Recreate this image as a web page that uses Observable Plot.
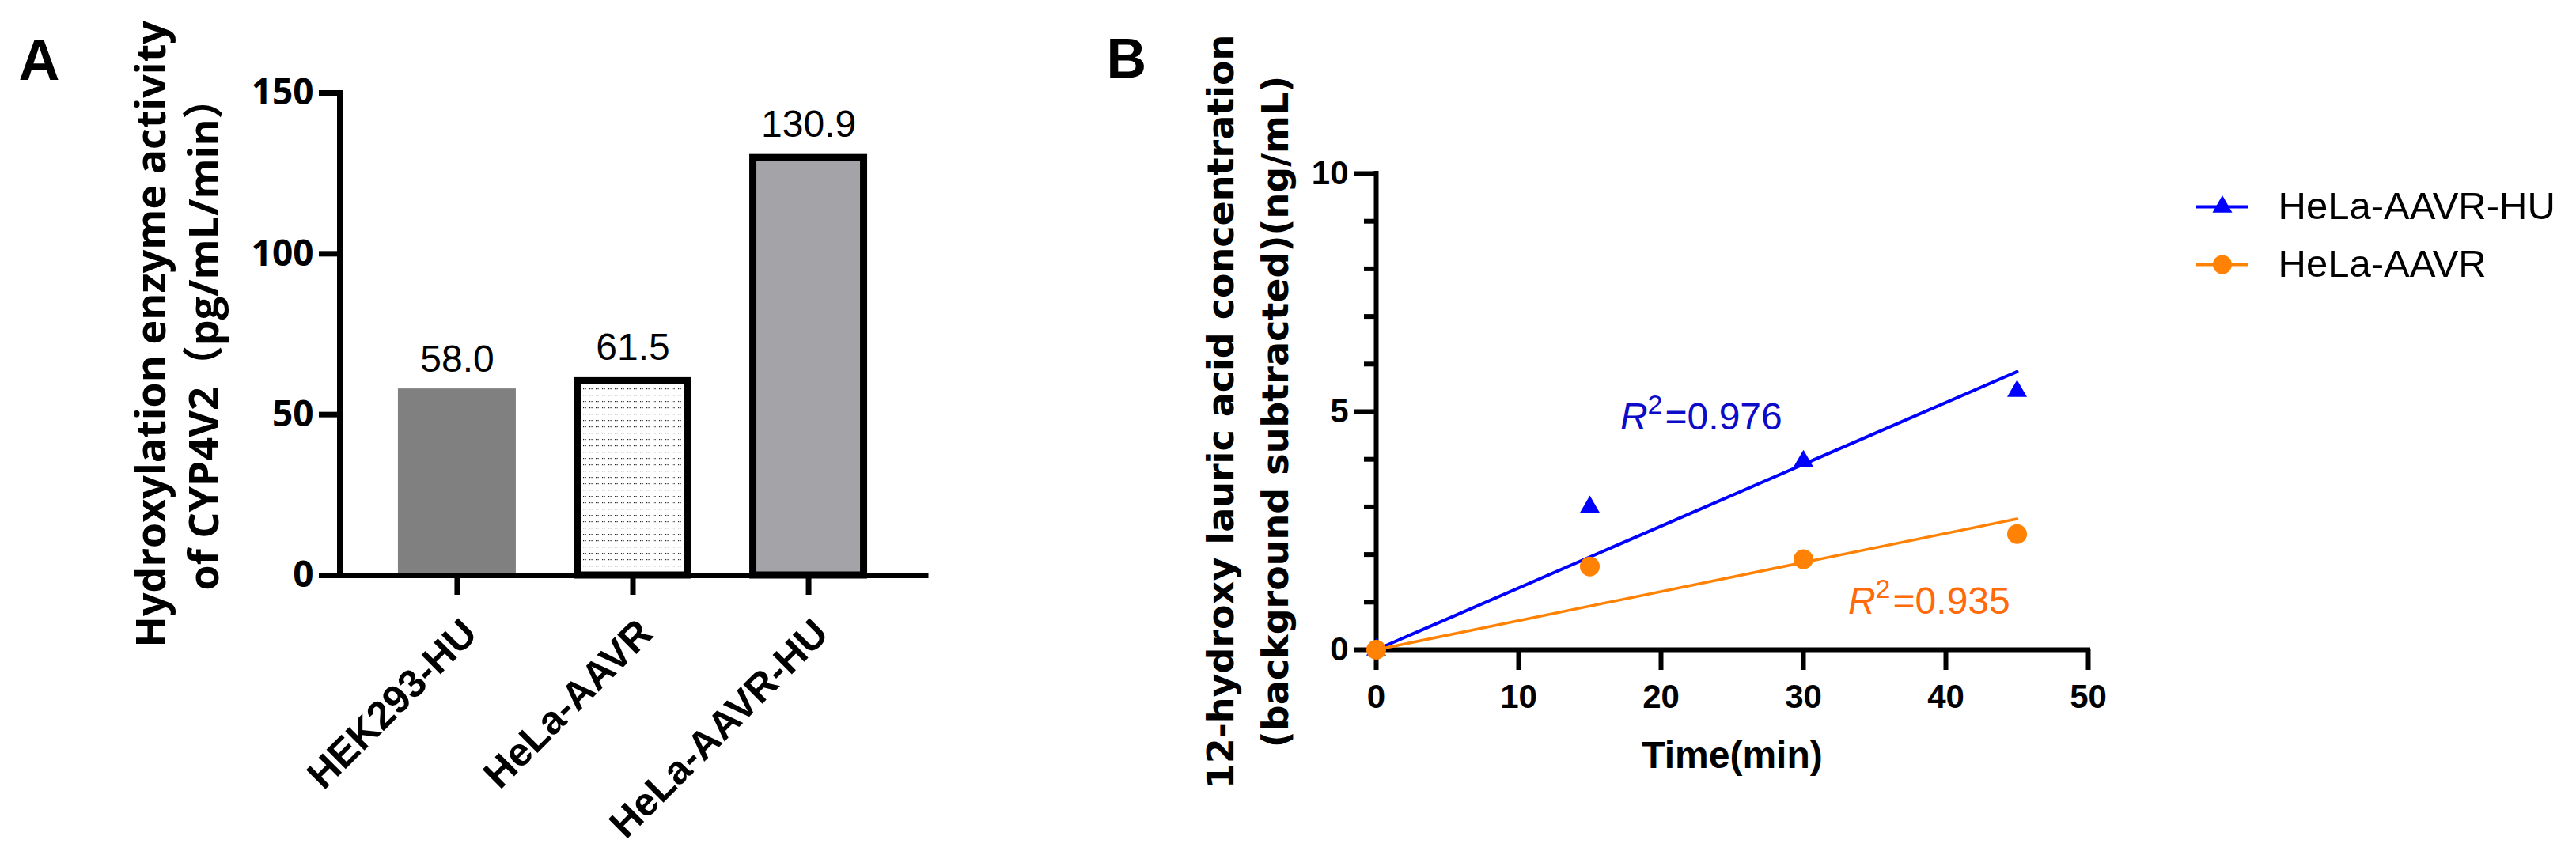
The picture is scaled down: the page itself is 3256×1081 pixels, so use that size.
<!DOCTYPE html>
<html>
<head>
<meta charset="utf-8">
<script src="https://cdn.jsdelivr.net/npm/d3@7"></script>
<script src="https://cdn.jsdelivr.net/npm/@observablehq/plot@0.6"></script>
<style>
html, body { margin: 0; padding: 0; background: #fff; }
#root { position: relative; width: 3256px; height: 1081px; overflow: hidden; background: #fff; }
#root svg { position: absolute; overflow: visible; background: transparent; }
</style>
</head>
<body>
<div id="root"></div>
<script>
// ---------- Panel A data ----------
const cellLines = ["HEK293-HU", "HeLa-AAVR", "HeLa-AAVR-HU"];
const activity = [58.0, 61.5, 130.9];
const activityLabels = ["58.0", "61.5", "130.9"];
const yTicksA = [0, 50, 100, 150];

// ---------- Panel B data ----------
const timeMin = [0, 15, 30, 45];
const huConc = [0, 3.0, 3.96, 5.43];
const aavrConc = [0, 1.75, 1.90, 2.43];
const fitTime = [0, 45];
const huFit = [0, 5.84];
const aavrFit = [0, 2.75];
const xTicksB = [0, 10, 20, 30, 40, 50];
const yTicksB = [0, 5, 10];
const yMinorB = [1, 2, 3, 4, 6, 7, 8, 9];
const seriesNames = ["HeLa-AAVR-HU", "HeLa-AAVR"];
const r2Values = ["0.976", "0.935"];

// ---------- styles ----------
const SANS = "'Liberation Sans', Arial, sans-serif";
const OPEN = "'Open Sans', 'Noto Sans CJK SC', sans-serif";
const DEJA = "'DejaVu Sans', Verdana, sans-serif";
const BLUE = "#0000ff";
const ORANGE = "#ff8205";
const BLUE_TXT = "#0c0cc8";
const ORANGE_TXT = "#ff6a0a";
const barFill = {"HEK293-HU": "#808080", "HeLa-AAVR": "url(#dotfill)", "HeLa-AAVR-HU": "#a4a3a8"};
const barBorder = {"HEK293-HU": false, "HeLa-AAVR": true, "HeLa-AAVR-HU": true};

const root = document.getElementById("root");

// ---------- Panel A ----------
const dataA = cellLines.map((c, i) => ({cell: c, value: activity[i], label: activityLabels[i]}));

const barMarks = cellLines.map(c => Plot.barY(dataA.filter(d => d.cell === c), Object.assign(
  {x: "cell", y: "value", fill: barFill[c]},
  barBorder[c] ? {stroke: "#000", strokeWidth: 9, insetLeft: 4.5, insetRight: 4.5, insetTop: 4.5, insetBottom: 0} : {}
)));

const plotA = Plot.plot({
  width: 1250, height: 1081,
  marginLeft: 429, marginRight: 80, marginTop: 117, marginBottom: 354,
  x: {type: "band", domain: cellLines, paddingInner: 0.329, paddingOuter: 0.333, round: false, label: null},
  y: {domain: [0, 150], label: null},
  marks: [
    ...barMarks,
    Plot.text(dataA, {x: "cell", y: "value", text: "label", lineAnchor: "bottom", dy: -22,
      fontSize: 48, fontFamily: SANS, fill: "#000"}),
    Plot.frame({anchor: "left", stroke: "#000", strokeWidth: 7, strokeLinecap: "square"}),
    Plot.ruleY([0], {stroke: "#000", strokeWidth: 7, strokeLinecap: "square"}),
    Plot.axisY({ticks: yTicksA, tickSize: 26, tickPadding: 7, strokeWidth: 7, fontSize: 46,
      fontWeight: 700, fontFamily: OPEN, label: null}),
    Plot.axisX({tickSize: 25, strokeWidth: 7, tickFormat: () => "", label: null}),
    Plot.text(cellLines, {x: d => d, text: d => d, frameAnchor: "bottom", rotate: -45,
      textAnchor: "end", lineAnchor: "top", dx: 2.5, dy: 51,
      fontSize: 50, fontWeight: 700, fontFamily: SANS}),
    Plot.text(["Hydroxylation enzyme activity"], {text: d => d, frameAnchor: "left", rotate: -90,
      textAnchor: "middle", lineAnchor: "bottom", dx: -221,
      fontSize: 52, fontWeight: 700, fontFamily: OPEN}),
    Plot.text(["of CYP4V2（pg/mL/min）"], {text: d => d, frameAnchor: "left", rotate: -90,
      textAnchor: "middle", lineAnchor: "bottom", dx: -154,
      fontSize: 52, fontWeight: 700, fontFamily: OPEN}),
    Plot.text(["A"], {text: d => d, frameAnchor: "top-left", textAnchor: "start", lineAnchor: "bottom",
      dx: -406, dy: -17, fontSize: 72, fontWeight: 700, fontFamily: SANS})
  ]
});
plotA.style.left = "0px";
plotA.style.top = "0px";
root.appendChild(plotA);

// dotted fill pattern for the HeLa-AAVR bar
{
  const defs = d3.select(plotA).insert("defs", ":first-child");
  const pat = defs.append("pattern").attr("id", "dotfill")
    .attr("patternUnits", "userSpaceOnUse").attr("width", 8).attr("height", 8);
  pat.append("rect").attr("width", 8).attr("height", 8).attr("fill", "#fff");
  pat.append("rect").attr("x", 1).attr("y", 3).attr("width", 1.2).attr("height", 1.2).attr("fill", "#222");
  pat.append("rect").attr("x", 3.5).attr("y", 3).attr("width", 1.2).attr("height", 1.2).attr("fill", "#222");
}

// ---------- Panel B ----------
const huData = timeMin.map((t, i) => ({t, c: huConc[i]}));
const aavrData = timeMin.map((t, i) => ({t, c: aavrConc[i]}));
const huFitData = fitTime.map((t, i) => ({t, c: huFit[i]}));
const aavrFitData = fitTime.map((t, i) => ({t, c: aavrFit[i]}));

function r2Marks(value, ax, ay, color) {
  const common = {x: () => ax, y: () => ay, lineAnchor: "bottom", fontFamily: SANS, fill: color};
  return [
    Plot.text([value], {...common, text: () => "R", fontStyle: "italic", textAnchor: "end", fontSize: 48}),
    Plot.text([value], {...common, text: () => "2", textAnchor: "start", fontSize: 34, dx: 0, dy: -20}),
    Plot.text([value], {...common, text: d => "=" + d, textAnchor: "start", fontSize: 48, dx: 22})
  ];
}

const plotB = Plot.plot({
  width: 2006, height: 1081,
  marginLeft: 489, marginRight: 617, marginTop: 219, marginBottom: 260,
  x: {domain: [0, 50], label: null},
  y: {domain: [0, 10], label: null},
  marks: [
    Plot.ruleY([0], {stroke: "#000", strokeWidth: 6, strokeLinecap: "square"}),
    Plot.ruleX([0], {stroke: "#000", strokeWidth: 6, strokeLinecap: "square"}),
    Plot.axisX({ticks: xTicksB, tickSize: 26, tickPadding: 18, strokeWidth: 6, fontSize: 42,
      fontWeight: 700, fontFamily: SANS, label: null}),
    Plot.axisY({ticks: yTicksB, tickSize: 27, tickPadding: 8, strokeWidth: 6, fontSize: 42,
      fontWeight: 700, fontFamily: SANS, label: null}),
    Plot.axisY(yMinorB, {tickSize: 15, strokeWidth: 6, tickFormat: () => "", label: null}),
    Plot.line(huFitData, {x: "t", y: "c", stroke: BLUE, strokeWidth: 4}),
    Plot.line(aavrFitData, {x: "t", y: "c", stroke: ORANGE, strokeWidth: 3.5}),
    Plot.dot(huData, {x: "t", y: "c", symbol: "triangle", r: 9.3, fill: BLUE}),
    Plot.dot(aavrData, {x: "t", y: "c", r: 12.5, fill: ORANGE}),
    ...r2Marks(r2Values[0], 19.06, 4.62, BLUE_TXT),
    ...r2Marks(r2Values[1], 35.06, 0.76, ORANGE_TXT),
    Plot.text(["Time(min)"], {text: d => d, frameAnchor: "bottom", lineAnchor: "bottom", dy: 149,
      fontSize: 48, fontWeight: 700, fontFamily: SANS}),
    Plot.text(["12-hydroxy lauric acid concentration"], {text: d => d, frameAnchor: "left", rotate: -90,
      textAnchor: "middle", lineAnchor: "bottom", dx: -181,
      fontSize: 46, fontWeight: 700, fontFamily: DEJA}),
    Plot.text(["(background subtracted)(ng/mL)"], {text: d => d, frameAnchor: "left", rotate: -90,
      textAnchor: "middle", lineAnchor: "bottom", dx: -112,
      fontSize: 46, fontWeight: 700, fontFamily: DEJA}),
    Plot.text(["B"], {text: d => d, frameAnchor: "top-left", textAnchor: "start", lineAnchor: "bottom",
      dx: -341, dy: -122, fontSize: 70, fontWeight: 700, fontFamily: SANS})
  ]
});
plotB.style.left = "1250px";
plotB.style.top = "0px";
root.appendChild(plotB);

// ---------- Legend ----------
const legend = Plot.plot({
  width: 486, height: 200,
  marginLeft: 0, marginRight: 0, marginTop: 0, marginBottom: 0,
  x: {domain: [0, 1], range: [6, 71], axis: null},
  y: {type: "point", domain: seriesNames, range: [61, 134], padding: 0, round: false, axis: null},
  marks: [
    Plot.ruleY([seriesNames[0]], {y: d => d, x1: () => 0, x2: () => 1, stroke: BLUE, strokeWidth: 4}),
    Plot.ruleY([seriesNames[1]], {y: d => d, x1: () => 0, x2: () => 1, stroke: ORANGE, strokeWidth: 4}),
    Plot.dot([seriesNames[0]], {x: () => 0.5, y: d => d, symbol: "triangle", r: 9.3, fill: BLUE}),
    Plot.dot([seriesNames[1]], {x: () => 0.5, y: d => d, r: 12, fill: ORANGE}),
    Plot.text(seriesNames, {x: () => 1, y: d => d, text: d => d, textAnchor: "start", dx: 38,
      fontSize: 49, fontFamily: SANS, fill: "#000"})
  ]
});
legend.style.left = "2770px";
legend.style.top = "200px";
root.appendChild(legend);
</script>
</body>
</html>
